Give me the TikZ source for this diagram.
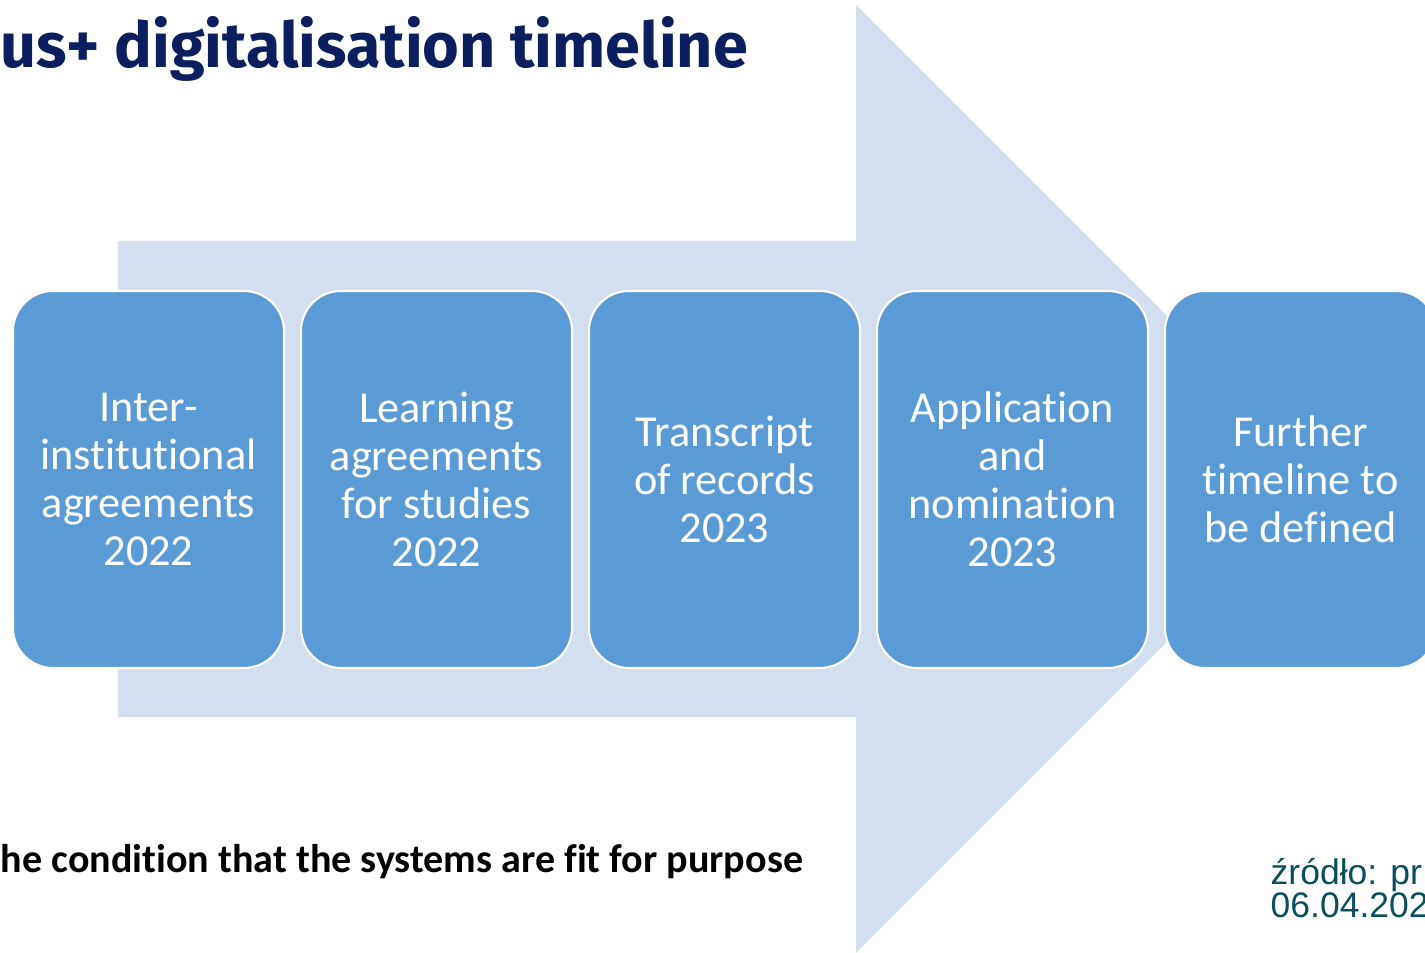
\documentclass[tikz,border=0pt]{standalone}
\usepackage{fontspec}
\setmainfont[Ligatures=NoCommon]{Carlito}
\newfontfamily\titlefont{Fira Sans}
\newfontfamily\srcfont{Liberation Sans}
\usetikzlibrary{positioning}
\definecolor{arrowbg}{HTML}{D3DEEF}
\definecolor{boxblue}{HTML}{5B9BD5}
\definecolor{titleblue}{HTML}{0B1F5E}
\definecolor{srcteal}{HTML}{0B4F5E}

\begin{document}
\begin{tikzpicture}[
  stage/.style={draw=white, line width=0.6pt, fill=boxblue, rounded corners=0.4cm,
    minimum width=2.71cm, minimum height=3.77cm, align=center, text=white,
    font=\fontsize{12.6}{13.7}\selectfont, inner sep=0pt, outer sep=0pt}
]
\useasboundingbox (0,0) rectangle (14.25,9.53);
\fill[white] (0,0) rectangle (14.25,9.53);
% big arrow behind the stages
\fill[arrowbg] (1.18,7.12) -- (8.56,7.12) -- (8.56,9.48) -- (13.30,4.74) -- (8.56,0) -- (8.56,2.36) -- (1.18,2.36) -- cycle;
% stages
\node[stage] (iia) at (1.485,4.735) {Inter-\\institutional\\agreements\\2022};
\node[stage, right=0.17cm of iia] (las) {Learning\\agreements\\for studies\\2022};
\node[stage, right=0.17cm of las] (tor) {Transcript\\of records\\2023};
\node[stage, right=0.17cm of tor] (appnom) {Application\\and\\nomination\\2023};
\node[stage, right=0.17cm of appnom] (further) {Further\\timeline to\\be defined};
% texts
\node[anchor=base west, inner sep=0pt, text=titleblue, font=\titlefont\bfseries\fontsize{17.9}{20}\selectfont] (title) at (0,8.85) {us+ digitalisation timeline};
\node[anchor=base west, inner sep=0pt, font=\bfseries\fontsize{11.4}{14}\selectfont] (cond) at (0,0.80) {he condition that the systems are fit for purpose};
\node[anchor=base west, inner sep=0pt, text=srcteal, align=left, font=\srcfont\fontsize{10.1}{9.4}\selectfont] (src) at (12.70,0.35) {źródło: pr\\06.04.202};
\end{tikzpicture}
\end{document}
